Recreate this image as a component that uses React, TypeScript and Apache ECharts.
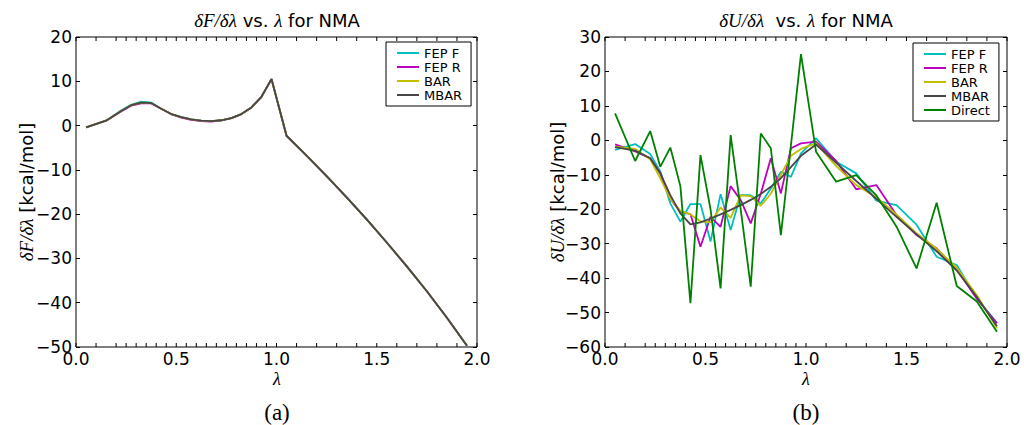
import React, { useEffect, useRef } from 'react';
import * as echarts from 'echarts';

// lambda states (tick positions on x axes)
const lambdaStates = [
  0, 0.1, 0.2, 0.25, 0.3, 0.35, 0.4, 0.45, 0.5, 0.55, 0.6, 0.65, 0.7, 0.75, 0.8, 0.85, 0.9, 0.95, 1.0,
  1.1, 1.2, 1.3, 1.4, 1.5, 1.6, 1.7, 1.8, 1.9, 2.0,
];

// midpoints where derivatives are evaluated
const lambdaMid = [
  0.05, 0.15, 0.225, 0.275, 0.325, 0.375, 0.425, 0.475, 0.525, 0.575, 0.625, 0.675, 0.725, 0.775,
  0.825, 0.875, 0.925, 0.975, 1.05, 1.15, 1.25, 1.35, 1.45, 1.55, 1.65, 1.75, 1.85, 1.95,
];

// (a) dF/dlambda
const aFepF = [-0.4, 1.1, 3.4, 4.7, 5.4, 5.2, 3.8, 2.6, 1.9, 1.4, 1.1, 1.0, 1.2, 1.7, 2.6, 4.1, 6.5, 10.5, -2.3, -6.8, -11.4, -16.2, -21.2, -26.4, -31.8, -37.4, -43.4, -49.7];
const aFepR = [-0.4, 1.1, 3.2, 4.5, 5.0, 5.0, 3.8, 2.6, 1.8, 1.3, 1.0, 0.9, 1.2, 1.7, 2.6, 4.1, 6.5, 10.5, -2.3, -6.8, -11.4, -16.2, -21.2, -26.4, -31.8, -37.4, -43.4, -49.7];
const aBar = [-0.4, 1.1, 3.3, 4.6, 5.2, 5.1, 3.8, 2.6, 1.9, 1.4, 1.1, 1.0, 1.2, 1.7, 2.6, 4.1, 6.5, 10.5, -2.3, -6.8, -11.4, -16.2, -21.2, -26.4, -31.8, -37.4, -43.4, -49.7];
const aMbar = [-0.4, 1.1, 3.3, 4.6, 5.2, 5.1, 3.8, 2.6, 1.9, 1.4, 1.1, 1.0, 1.2, 1.7, 2.6, 4.1, 6.5, 10.5, -2.3, -6.8, -11.4, -16.2, -21.2, -26.4, -31.8, -37.4, -43.4, -49.7];

// (b) dU/dlambda
const bFepF = [-2.8, -1.1, -4.0, -9.0, -18.3, -23.6, -18.5, -18.5, -29.4, -15.6, -26.0, -15.9, -15.9, -18.3, -14.0, -9.1, -10.6, -3.8, 0.6, -6.2, -9.6, -17.5, -18.8, -24.5, -33.8, -36.2, -45.9, -53.0];
const bFepR = [-1.2, -3.2, -5.2, -9.5, -17.0, -20.7, -21.4, -30.9, -22.2, -25.1, -13.3, -17.3, -24.1, -15.5, -5.2, -15.4, -2.3, -0.9, -0.4, -6.0, -14.2, -13.0, -21.7, -27.5, -31.4, -37.5, -46.0, -53.1];
const bBar = [-1.8, -2.5, -5.5, -11.0, -17.0, -20.5, -21.5, -23.5, -23.8, -19.5, -22.5, -16.0, -16.2, -19.0, -15.5, -10.0, -4.5, -2.5, -0.8, -7.5, -13.0, -16.5, -21.5, -27.0, -31.5, -37.0, -45.0, -54.5];
const bMbar = [-2.0, -3.0, -5.2, -9.6, -15.9, -21.2, -24.4, -23.8, -22.7, -21.5, -20.2, -18.8, -17.3, -15.6, -13.5, -11.0, -7.8, -4.5, -1.2, -6.5, -11.8, -17.0, -22.2, -27.3, -32.2, -37.8, -45.5, -54.0];
const bDirect = [7.8, -6.0, 2.7, -7.7, -2.1, -13.3, -47.3, -4.3, -20.0, -43.0, 1.5, -20.0, -42.5, 2.0, -2.3, -27.5, -1.5, 25.0, -3.3, -12.0, -10.1, -16.0, -25.0, -37.2, -18.1, -42.3, -46.8, -55.6];

const aRange = { min: -50, max: 20 };
const bRange = { min: -60, max: 30 };

const COLORS: Record<string, string> = {
  'FEP F': '#00bfbf',
  'FEP R': '#bf00bf',
  BAR: '#bfbf00',
  MBAR: '#474747',
  Direct: '#008000',
};

const SANS = 'DejaVu Sans';
const SERIF = 'Liberation Serif';

function pairs(vals: number[]) {
  return lambdaMid.map((x, i) => [x, vals[i]]);
}

function minusFmt(v: number) {
  return v < 0 ? '\u2212' + String(-v) : String(v);
}

function lineSeries(name: string, vals: number[], xi: number, yi: number) {
  return {
    type: 'line',
    name,
    xAxisIndex: xi,
    yAxisIndex: yi,
    data: pairs(vals),
    showSymbol: false,
    symbol: 'none',
    lineStyle: { color: COLORS[name], width: 1.8 },
    itemStyle: { color: COLORS[name] },
    silent: true,
  };
}

function tickSeries(xi: number, yi: number, range: { min: number; max: number }) {
  return {
    type: 'custom',
    xAxisIndex: xi,
    yAxisIndex: yi,
    silent: true,
    clip: false,
    z: 10,
    data: lambdaStates.map((v) => [v, range.min]),
    encode: { x: 0, y: 1 },
    renderItem: (_p: any, api: any) => {
      const x = api.value(0);
      const b = api.coord([x, range.min]);
      const t = api.coord([x, range.max]);
      return {
        type: 'group',
        children: [
          { type: 'line', shape: { x1: b[0], y1: b[1], x2: b[0], y2: b[1] - 4 }, style: { stroke: '#000', lineWidth: 1 } },
          { type: 'line', shape: { x1: t[0], y1: t[1], x2: t[0], y2: t[1] + 4 }, style: { stroke: '#000', lineWidth: 1 } },
        ],
      };
    },
  };
}

function xAxisCfg(gi: number) {
  return {
    type: 'value',
    gridIndex: gi,
    min: 0,
    max: 2,
    interval: 0.5,
    axisLine: { show: false },
    axisTick: { show: false },
    splitLine: { show: false },
    axisLabel: {
      fontFamily: SANS,
      fontSize: 17,
      color: '#000',
      margin: 3,
      showMinLabel: true,
      showMaxLabel: true,
      formatter: (v: number) => v.toFixed(1),
    },
  };
}

function yAxisCfg(gi: number, range: { min: number; max: number }, right: boolean) {
  return {
    type: 'value',
    gridIndex: gi,
    position: right ? 'right' : 'left',
    min: range.min,
    max: range.max,
    interval: 10,
    axisLine: { show: false },
    axisTick: { show: true, inside: true, length: 4, lineStyle: { color: '#000', width: 1 } },
    splitLine: { show: false },
    axisLabel: right
      ? { show: false }
      : {
          fontFamily: SANS,
          fontSize: 17,
          color: '#000',
          margin: 4,
          showMinLabel: true,
          showMaxLabel: true,
          formatter: minusFmt,
        },
  };
}

function legendCfg(names: string[], left: number, top: number) {
  return {
    data: names,
    orient: 'vertical',
    left,
    top,
    icon: 'rect',
    itemWidth: 22,
    itemHeight: 2,
    itemGap: 0,
    padding: [4, 9, 4, 11],
    borderColor: '#000',
    borderWidth: 1,
    borderRadius: 0,
    backgroundColor: '#fff',
    selectedMode: false,
    textStyle: { fontFamily: SANS, fontSize: 13, color: '#000', lineHeight: 14 },
  };
}

function mathText(x: number, y: number, text: string, size: number, rotate = 0, family = SANS) {
  return {
    type: 'text',
    x,
    y,
    rotation: rotate,
    silent: true,
    style: {
      text,
      fontFamily: family,
      fontSize: size,
      fill: '#000',
      align: 'center',
      verticalAlign: 'middle',
      textAlign: 'center',
      textVerticalAlign: 'middle',
      rich: {
        m: { fontFamily: SERIF, fontStyle: 'italic', fontSize: size + 1, fill: '#000' },
      },
    },
  };
}

export default function App() {
  const ref = useRef<HTMLDivElement>(null);
  useEffect(() => {
    if (!ref.current) return;
    const chart = echarts.init(ref.current, undefined, { renderer: 'svg' });
    chart.setOption({
      animation: false,
      backgroundColor: '#fff',
      grid: [
        { left: 76, top: 37, width: 401, height: 310, show: true, borderColor: '#000', borderWidth: 1, backgroundColor: 'transparent' },
        { left: 605, top: 37, width: 402, height: 310, show: true, borderColor: '#000', borderWidth: 1, backgroundColor: 'transparent' },
      ],
      xAxis: [xAxisCfg(0), xAxisCfg(1)],
      yAxis: [yAxisCfg(0, aRange, false), yAxisCfg(0, aRange, true), yAxisCfg(1, bRange, false), yAxisCfg(1, bRange, true)],
      legend: [
        legendCfg(['FEP F', 'FEP R', 'BAR', 'MBAR'], 386, 42),
        legendCfg(['FEP F', 'FEP R', 'BAR', 'MBAR', 'Direct'], 913, 43),
      ],
      series: [
        lineSeries('FEP F', aFepF, 0, 0),
        lineSeries('FEP R', aFepR, 0, 0),
        lineSeries('BAR', aBar, 0, 0),
        lineSeries('MBAR', aMbar, 0, 0),
        lineSeries('FEP F', bFepF, 1, 2),
        lineSeries('FEP R', bFepR, 1, 2),
        lineSeries('BAR', bBar, 1, 2),
        lineSeries('MBAR', bMbar, 1, 2),
        lineSeries('Direct', bDirect, 1, 2),
        tickSeries(0, 0, aRange),
        tickSeries(1, 2, bRange),
      ],
      graphic: [
        mathText(277, 20, '{m|δF/δλ} vs. {m|λ} for NMA', 18),
        mathText(806, 20, '{m|δU/δλ}  vs. {m|λ} for NMA', 18),
        mathText(26, 192, '{m|δF/δλ} [kcal/mol]', 18, Math.PI / 2),
        mathText(557, 192, '{m|δU/δλ} [kcal/mol]', 18, Math.PI / 2),
        mathText(277, 379, '{m|λ}', 17),
        mathText(806, 379, '{m|λ}', 17),
        mathText(277, 412, '(a)', 23, 0, SERIF),
        mathText(806, 412, '(b)', 23, 0, SERIF),
      ],
    } as any);
    return () => chart.dispose();
  }, []);
  return <div ref={ref} style={{ position: 'absolute', left: 0, top: 0, width: 1024, height: 425 }} />;
}
